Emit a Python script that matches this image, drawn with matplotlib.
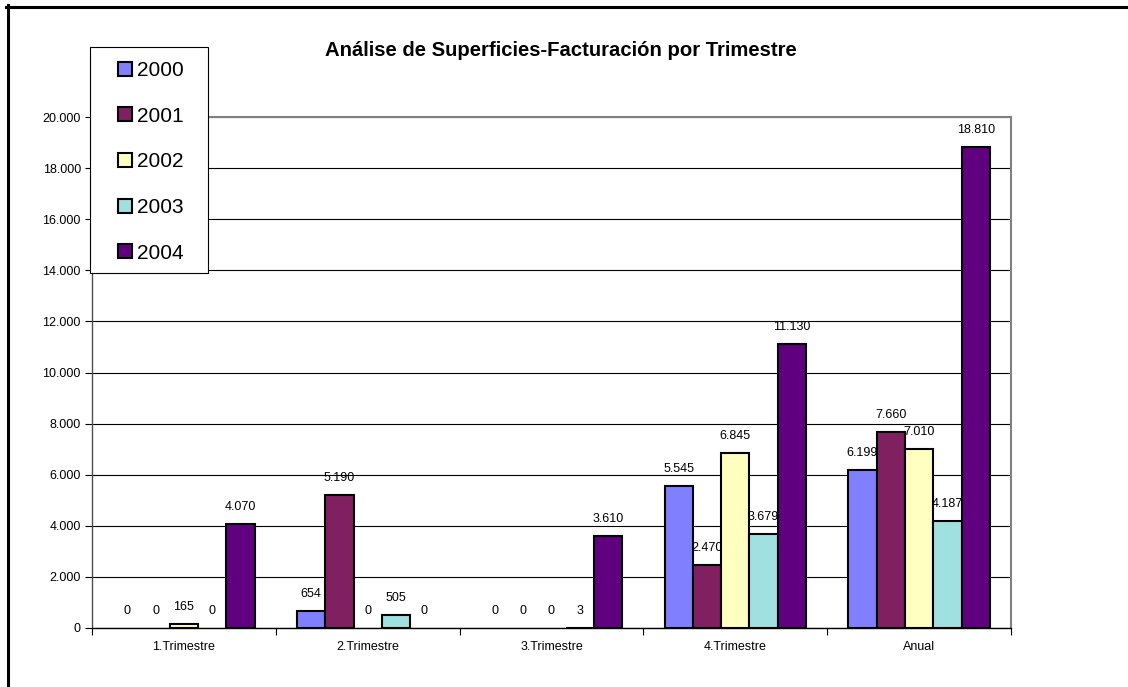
import matplotlib
matplotlib.use("Agg")
import matplotlib.pyplot as plt
from matplotlib.patches import Rectangle
from matplotlib.lines import Line2D
from matplotlib.ticker import FuncFormatter, FixedLocator
import numpy as np

plt.rcParams['font.family'] = ['Liberation Sans', 'DejaVu Sans']

categories = ["1.Trimestre", "2.Trimestre", "3.Trimestre", "4.Trimestre", "Anual"]
years = ["2000", "2001", "2002", "2003", "2004"]
v2000 = [0, 654, 0, 5545, 6199]
v2001 = [0, 5190, 0, 2470, 7660]
v2002 = [165, 0, 0, 6845, 7010]
v2003 = [0, 505, 3, 3679, 4187]
v2004 = [4070, 0, 3610, 11130, 18810]
series = [v2000, v2001, v2002, v2003, v2004]
colors = ["#8080FF", "#802060", "#FFFFC0", "#A0E0E0", "#600080"]
title = "Análise de Superficies-Facturación por Trimestre"

W, H = 1128, 687
fig = plt.figure(figsize=(W / 100, H / 100), dpi=100)
ax = fig.add_axes([92 / W, 1 - 628 / H, (1011 - 92) / W, (628 - 117) / H])

n = len(series)
gap = 1.5
bw = 1.0 / (n + gap)
x = np.arange(len(categories))
handles = []
for i, (vals, c, yr) in enumerate(zip(series, colors, years)):
    pos = x - 0.5 + (gap / 2) * bw + (i + 0.5) * bw
    bars = ax.bar(pos, vals, width=bw, color=c, edgecolor="black", linewidth=1.5,
                  label=yr, zorder=3)
    for b, v in zip(bars, vals):
        if v == 0:
            b.set_linewidth(0)
    handles.append(bars)
    for px, v in zip(pos, vals):
        ax.annotate(f"{v:,}".replace(",", "."), (px, v), xytext=(0, 8),
                    textcoords="offset points", ha="center", va="bottom",
                    fontsize=9, color="black", zorder=4)

ax.set_xlim(-0.5, len(categories) - 0.5)
ax.set_ylim(0, 20000)
ax.set_yticks(np.arange(0, 20001, 2000))
ax.yaxis.set_major_formatter(FuncFormatter(lambda v, p: f"{int(v):,}".replace(",", ".")))
ax.yaxis.grid(True, color="black", linewidth=0.8, zorder=0)
ax.set_axisbelow(True)

ax.set_xticks(x)
ax.set_xticklabels(categories)
ax.xaxis.set_minor_locator(FixedLocator(np.arange(-0.5, len(categories), 1.0)))
ax.tick_params(axis="x", which="major", length=0, labelsize=9, pad=9)
ax.tick_params(axis="x", which="minor", length=5, width=0.8, direction="out")
ax.tick_params(axis="y", length=5, width=0.8, direction="out", labelsize=9, pad=3)

for s in ["top", "right"]:
    ax.spines[s].set_color("#808080")
    ax.spines[s].set_linewidth(1.5)
ax.spines["left"].set_color("#505050")
ax.spines["left"].set_linewidth(1.0)
ax.spines["bottom"].set_color("black")
ax.spines["bottom"].set_linewidth(1.0)

# title
fig.text(561 / W, 1 - 51 / H, title, ha="center", va="center",
         fontsize=14.6, fontweight="bold")

# legend frame + legend
frame = Rectangle((90 / W, 1 - 273 / H), (208 - 90) / W, (273 - 47) / H,
                  transform=fig.transFigure, facecolor="white",
                  edgecolor="black", linewidth=0.8, zorder=5, clip_on=False)
ax.add_artist(frame)
leg = ax.legend(handles=handles, labels=years, frameon=False, loc="upper left",
                bbox_to_anchor=(118 / W, 1 - 61 / H), bbox_transform=fig.transFigure,
                borderpad=0, borderaxespad=0, fontsize=15, labelspacing=1.28,
                handlelength=0.65, handleheight=0.65, handletextpad=0.25)
leg.set_zorder(6)
for h in leg.legend_handles:
    h.set_edgecolor("black")
    h.set_linewidth(1.5)

# outer chart border (left and top edges visible)
fig.add_artist(Line2D([7.5 / W, 7.5 / W], [0, 1 - 5 / H], transform=fig.transFigure,
                      color="black", linewidth=2.2))
fig.add_artist(Line2D([6 / W, 1], [1 - 6.5 / H, 1 - 6.5 / H], transform=fig.transFigure,
                      color="black", linewidth=2.2))

fig.savefig("out.png", dpi=100)
